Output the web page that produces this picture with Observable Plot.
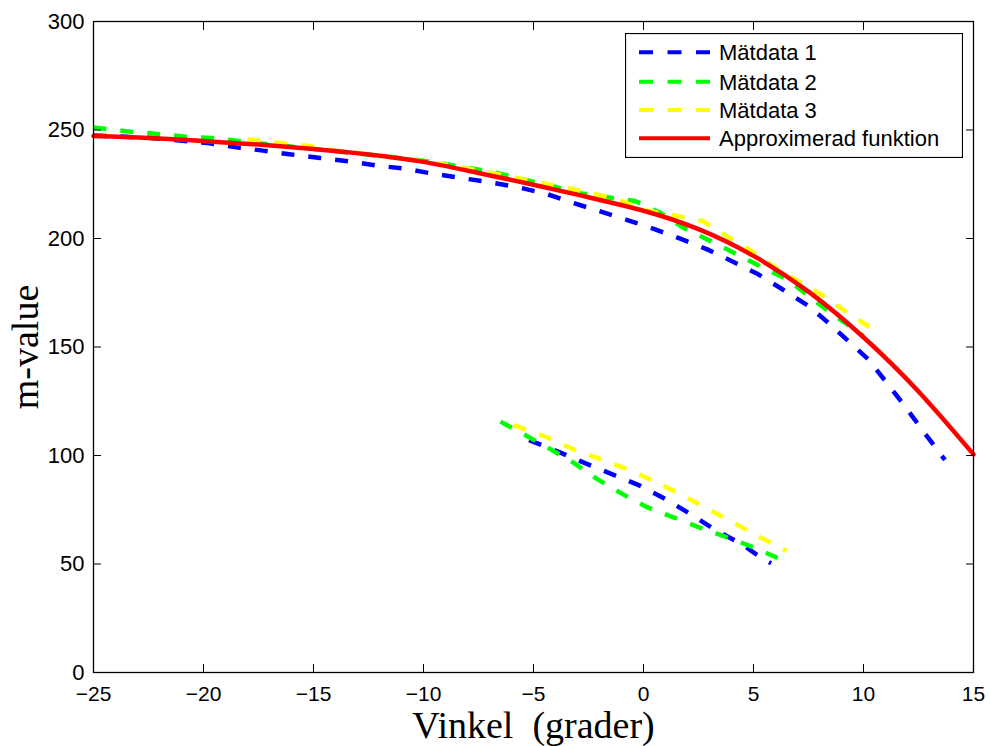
<!DOCTYPE html>
<html>
<head>
<meta charset="utf-8">
<script src="https://cdn.jsdelivr.net/npm/d3@7"></script>
<script src="https://cdn.jsdelivr.net/npm/@observablehq/plot@0.6"></script>
<style>
  html, body { margin: 0; padding: 0; background: white; }
  #wrap { position: relative; width: 990px; height: 746px; }
  #wrap svg text { white-space: pre; }
  #legend { position: absolute; left: 625px; top: 33px; }
</style>
</head>
<body>
<div id="wrap"></div>
<script>
// ---- Data ----
const xTicks = [-25, -20, -15, -10, -5, 0, 5, 10, 15];
const yTicks = [0, 50, 100, 150, 200, 250, 300];

const seriesNames = ["Mätdata 1", "Mätdata 2", "Mätdata 3", "Approximerad funktion"];
const seriesColors = ["#0000ff", "#00ff00", "#ffff00", "#ff0000"];

// Mätdata 1 (blue)
const matdata1Upper = [[-25, 247.5], [-22.5, 246.4], [-19.8, 244.0], [-18.5, 242.0], [-17.3, 240.5], [-16, 238.7], [-14.7, 237.1], [-13.4, 235.6], [-12.1, 233.6], [-10.8, 232.1], [-9.6, 229.9], [-8.3, 227.9], [-7.0, 225.9], [-5.7, 223.6], [-4.4, 220.5], [-3.2, 216.4], [-2.0, 212.6], [-0.7, 208.4], [0.5, 204.3], [1.7, 199.8], [2.9, 195.0], [4.0, 189.6], [5.2, 183.6], [6.2, 177.3], [7.5, 168.9], [8.4, 161.2], [9.3, 152.8], [10.2, 144.5], [11.1, 133.0], [11.8, 123.8], [12.7, 111.4], [13.7, 98.0]];
const matdata1Lower = [[-5.2, 107.1], [-3.8, 101.4], [-2.55, 96.0], [-1.36, 91.1], [-0.14, 86.0], [1.0, 79.9], [2.14, 73.0], [3.2, 66.1], [4.4, 59.5], [5.45, 52.3], [5.8, 50.3]];

// Mätdata 2 (green)
const matdata2Upper = [[-25, 251.2], [-23.5, 249.4], [-22.1, 248.2], [-20.9, 247.0], [-19.6, 246.3], [-18.3, 244.8], [-15.7, 242.0], [-13.2, 239.4], [-10.6, 236.6], [-9.3, 234.9], [-8.0, 232.6], [-6.7, 230.3], [-5.45, 227.2], [-4.2, 224.4], [-3.0, 221.0], [-1.64, 219.0], [-0.36, 217.2], [0.77, 211.8], [1.82, 204.9], [3.05, 198.8], [4.27, 192.6], [5.3, 187.2], [6.55, 181.1], [7.6, 172.7], [8.6, 165.0], [9.7, 157.4], [10.0, 155.0]];
const matdata2Lower = [[-6.5, 115.6], [-5.45, 109.8], [-4.36, 103.7], [-3.2, 96.8], [-2.1, 89.1], [-0.95, 82.2], [0.18, 76.1], [1.36, 71.5], [2.6, 66.6], [3.8, 62.3], [5.0, 57.7], [6.2, 52.3], [6.6, 51.0]];

// Mätdata 3 (yellow)
const matdata3Upper = [[-18.0, 245.8], [-17.6, 245.3], [-16.3, 243.8], [-15.1, 242.5], [-13.8, 240.2], [-12.4, 238.7], [-10.0, 235.6], [-8.7, 233.6], [-7.4, 231.2], [-6.1, 228.7], [-4.8, 225.8], [-3.6, 223.6], [-2.4, 221.0], [-1.2, 217.9], [0.2, 212.8], [1.36, 210.7], [2.7, 208.0], [3.8, 201.0], [4.86, 194.5], [5.9, 187.3], [7.0, 180.4], [8.2, 173.5], [9.27, 165.8], [10.3, 159.0]];
const matdata3Lower = [[-5.9, 114.0], [-4.36, 108.3], [-3.2, 102.9], [-1.95, 98.3], [-0.73, 93.7], [0.45, 88.3], [1.68, 82.2], [2.73, 76.4], [3.95, 69.9], [5.0, 63.8], [6.2, 57.7], [6.5, 56.0]];

// Approximerad funktion (red)
const approxFunktion = [[-25, 247.2], [-22.5, 246.3], [-20, 244.9], [-17.5, 243.3], [-15, 241.2], [-12.5, 238.7], [-10, 235.3], [-7.5, 230.2], [-5, 224.8], [-2.5, 219.0], [0, 212.8], [2.5, 204.3], [5, 192.0], [7.5, 175.5], [10, 154.5], [12.5, 129.5], [15, 100.5]];

// ---- Build table ----
function toRows(points, series, branch) {
  return points.map(([x, y]) => ({series, branch, x, y}));
}
const dashedRows = [
  ...toRows(matdata1Upper, seriesNames[0], "upper"),
  ...toRows(matdata1Lower, seriesNames[0], "lower"),
  ...toRows(matdata2Upper, seriesNames[1], "upper"),
  ...toRows(matdata2Lower, seriesNames[1], "lower"),
  ...toRows(matdata3Upper, seriesNames[2], "upper"),
  ...toRows(matdata3Lower, seriesNames[2], "lower")
];
const fitRows = toRows(approxFunktion, seriesNames[3], "fit");

const sansFont = "'Liberation Sans', Arial, Helvetica, sans-serif";
const serifFont = "'Liberation Serif', 'Times New Roman', serif";

const dashedMarks = seriesNames.slice(0, 3).map((name, i) =>
  Plot.line(dashedRows.filter(d => d.series === name), {
    x: "x", y: "y", z: "branch",
    stroke: seriesColors[i], strokeWidth: 4.5, strokeDasharray: "13,14", strokeLinecap: "butt"
  })
);

const chart = Plot.plot({
  width: 990,
  height: 746,
  marginLeft: 93,
  marginRight: 17,
  marginTop: 21,
  marginBottom: 74,
  x: {domain: [-25, 15]},
  y: {domain: [0, 300]},
  style: {fontFamily: sansFont, fontSize: "21px", background: "white", color: "black"},
  marks: [
    ...dashedMarks,
    Plot.line(fitRows, {x: "x", y: "y", stroke: seriesColors[3], strokeWidth: 4.5, curve: "natural"}),
    Plot.frame({stroke: "black", strokeWidth: 1.3}),
    Plot.axisX({anchor: "bottom", ticks: xTicks, tickSize: -8, tickPadding: 22, label: null, fontSize: 21}),
    Plot.axisX({anchor: "top", ticks: xTicks, tickSize: -8, tickFormat: () => "", label: null}),
    Plot.axisY({anchor: "left", ticks: yTicks, tickSize: -8, tickPadding: 17, label: null, fontSize: 22}),
    Plot.axisY({anchor: "right", ticks: yTicks, tickSize: -8, tickFormat: () => "", label: null}),
    Plot.text(["Vinkel  (grader)"], {text: d => d, frameAnchor: "bottom", textAnchor: "middle", dy: 65, lineAnchor: "bottom", fontSize: 38, fontFamily: serifFont}),
    Plot.text(["m-value"], {text: d => d, frameAnchor: "left", textAnchor: "middle", rotate: -90, dx: -56, lineAnchor: "bottom", fontSize: 38, fontFamily: serifFont})
  ]
});
document.getElementById("wrap").appendChild(chart);

// ---- Legend (inside the axes, top right) ----
const ns = "http://www.w3.org/2000/svg";
const lg = document.createElementNS(ns, "svg");
lg.setAttribute("id", "legend");
lg.setAttribute("width", 338);
lg.setAttribute("height", 125);
const box = document.createElementNS(ns, "rect");
box.setAttribute("x", 0.5); box.setAttribute("y", 0.5);
box.setAttribute("width", 337); box.setAttribute("height", 124);
box.setAttribute("fill", "white"); box.setAttribute("stroke", "black"); box.setAttribute("stroke-width", 1.2);
lg.appendChild(box);
const rowY = [19.3, 48.7, 77, 105.3];
seriesNames.forEach((name, i) => {
  const ln = document.createElementNS(ns, "line");
  ln.setAttribute("x1", 14); ln.setAttribute("x2", 85);
  ln.setAttribute("y1", rowY[i]); ln.setAttribute("y2", rowY[i]);
  ln.setAttribute("stroke", seriesColors[i]);
  ln.setAttribute("stroke-width", 4);
  if (i < 3) ln.setAttribute("stroke-dasharray", "14,14.5");
  lg.appendChild(ln);
  const tx = document.createElementNS(ns, "text");
  tx.setAttribute("x", 94);
  tx.setAttribute("y", rowY[i] + 7.8);
  tx.setAttribute("font-family", sansFont);
  tx.setAttribute("font-size", 22);
  tx.setAttribute("fill", "black");
  tx.textContent = name;
  lg.appendChild(tx);
});
document.getElementById("wrap").appendChild(lg);
</script>
</body>
</html>
